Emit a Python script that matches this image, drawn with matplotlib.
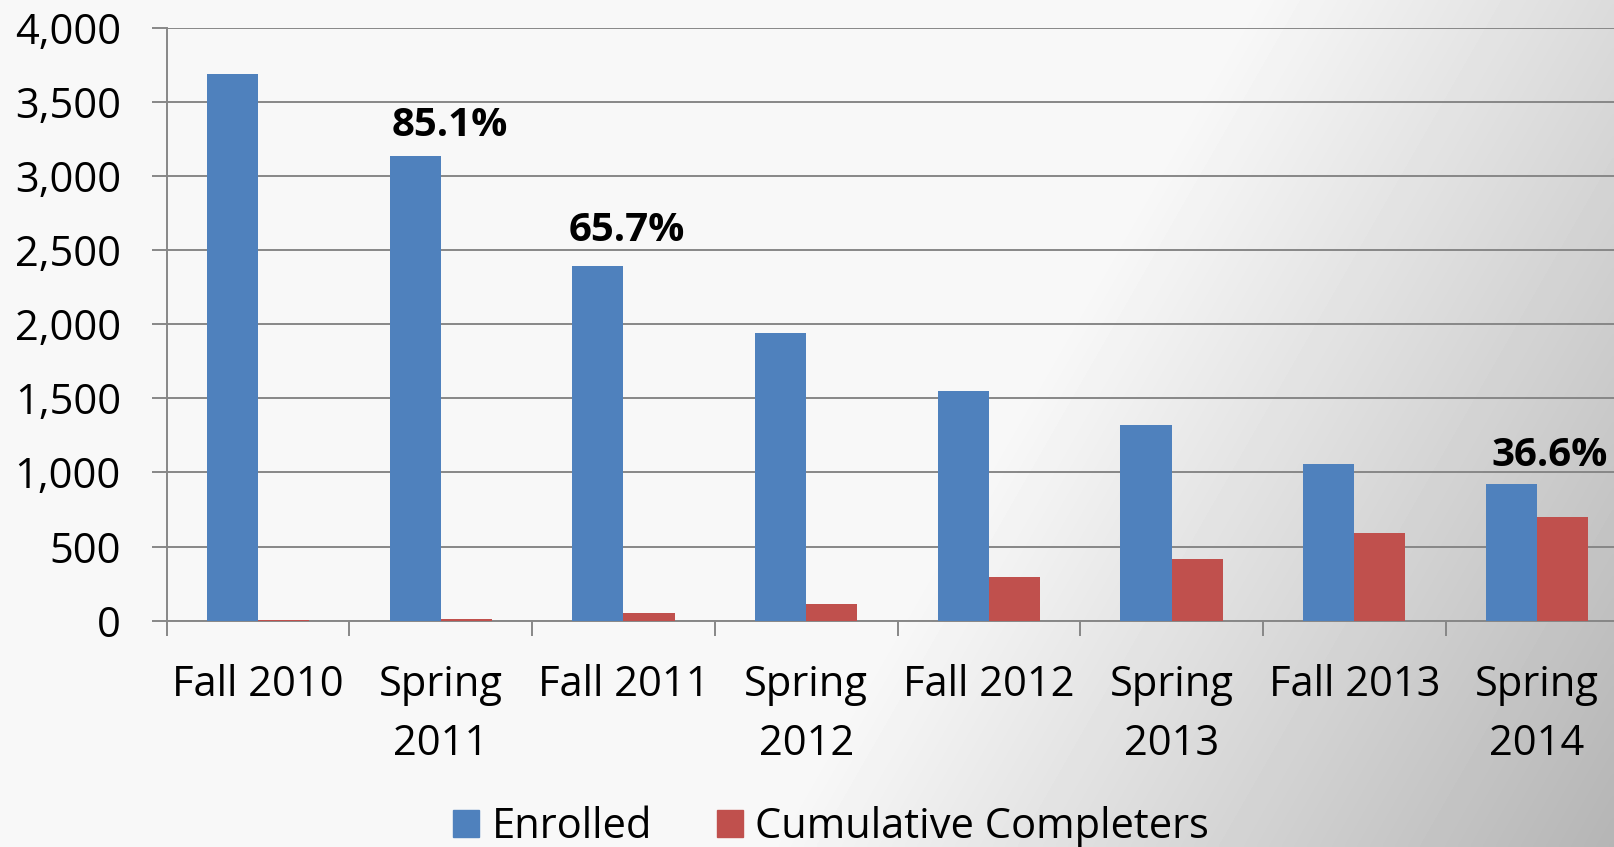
import numpy as np
import matplotlib
matplotlib.use("Agg")
import matplotlib.pyplot as plt
from matplotlib.patches import Patch

plt.rcParams['font.family'] = ['Open Sans', 'DejaVu Sans']

terms = ['Fall 2010', 'Spring\n2011', 'Fall 2011', 'Spring\n2012',
         'Fall 2012', 'Spring\n2013', 'Fall 2013', 'Spring\n2014']
enrolled = [3687, 3133, 2395, 1943, 1548, 1319, 1056, 923]
completers = [3, 14, 49, 112, 292, 416, 590, 701]
pct_labels = {1: '85.1%', 2: '65.7%', 7: '36.6%'}
pct_y = {1: 3340, 2: 2632, 7: 1118}
pct_dx = {1: 0.05, 2: 0.02, 7: 0.07}

fig = plt.figure(figsize=(16.14, 8.47), dpi=100)

# background gradient (light top-left, darker bottom-right)
bg = fig.add_axes([0, 0, 1, 1], zorder=-10)
xx, yy = np.meshgrid(np.linspace(0, 1, 400), np.linspace(0, 1, 220))
u = xx + 0.3 * yy
shade = 0.97 - 0.5 * np.clip(u - 0.78, 0, None)
bg.imshow(shade, cmap='gray', vmin=0, vmax=1, aspect='auto',
          extent=[0, 1, 0, 1], origin='upper', interpolation='bilinear')
bg.axis('off')

ax = fig.add_axes([0.1033, 0.2672, 0.9056, 0.6998])
ax.set_facecolor('none')

x = np.arange(len(terms))
w = 0.28
ax.bar(x - w / 2, enrolled, w, color='#4f81bd', zorder=3)
ax.bar(x + w / 2, completers, w, color='#c0504d', zorder=3)

for i, lab in pct_labels.items():
    ax.text(i + pct_dx[i], pct_y[i], lab, ha='center', va='center',
            fontsize=29, fontweight='bold', color='black', zorder=4)

ax.set_xlim(-0.5, len(terms) - 0.5)
ax.set_ylim(0, 4000)
ax.set_yticks(np.arange(0, 4001, 500))
ax.set_yticklabels([f'{v:,}' for v in range(0, 4001, 500)])
ax.yaxis.grid(True, color='#878787', lw=1.4, zorder=0)

ax.set_xticks(x)
ax.set_xticklabels(terms, fontsize=30, linespacing=1.55)
ax.set_xticks(np.arange(-0.5, len(terms)), minor=True)
ax.tick_params(axis='x', which='major', length=0, pad=31)
ax.tick_params(axis='x', which='minor', length=11, width=1.4, color='#878787')
ax.tick_params(axis='y', length=11, width=1.4, color='#878787', pad=22,
               labelsize=30)

for s in ['top', 'right']:
    ax.spines[s].set_visible(False)
for s in ['left', 'bottom']:
    ax.spines[s].set_color('#878787')
    ax.spines[s].set_linewidth(1.4)

handles = [Patch(color='#4f81bd', label='Enrolled'),
           Patch(color='#c0504d', label='Cumulative Completers')]
fig.legend(handles=handles, loc='center', bbox_to_anchor=(0.515, 0.024),
           ncol=2, frameon=False, fontsize=30, handlelength=0.62,
           handleheight=0.62, handletextpad=0.3, columnspacing=1.55)

fig.savefig('out.png', dpi=100)
